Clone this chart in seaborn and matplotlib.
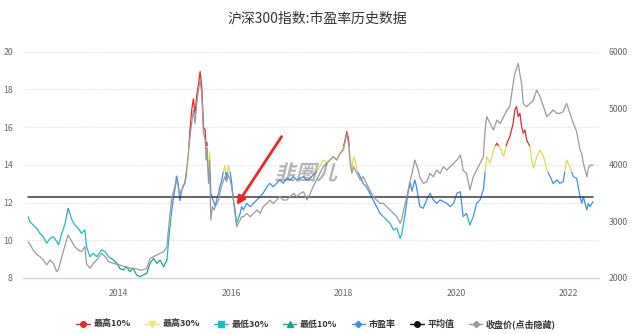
import matplotlib
matplotlib.use("Agg")
import matplotlib.pyplot as plt
from matplotlib.patches import Rectangle, PathPatch
from matplotlib.lines import Line2D
from matplotlib.textpath import TextPath
from matplotlib.font_manager import FontProperties
from matplotlib.transforms import Affine2D, ScaledTranslation
import pandas as pd
import seaborn as sns

# CSI 300: trailing P/E and index close, sampled roughly every three weeks
years = [
    2012.39, 2012.42, 2012.48, 2012.54, 2012.60, 2012.66, 2012.72, 2012.78, 2012.84, 2012.90,
    2012.93, 2012.99, 2013.05, 2013.10, 2013.17, 2013.22, 2013.28, 2013.34, 2013.40, 2013.43,
    2013.49, 2013.55, 2013.61, 2013.70, 2013.76, 2013.82, 2013.91, 2013.97, 2014.02, 2014.08,
    2014.14, 2014.20, 2014.26, 2014.32, 2014.38, 2014.44, 2014.50, 2014.56, 2014.62, 2014.68,
    2014.74, 2014.80, 2014.86, 2014.88, 2014.91, 2014.94, 2014.97, 2015.00, 2015.03, 2015.06,
    2015.09, 2015.12, 2015.15, 2015.18, 2015.21, 2015.24, 2015.27, 2015.30, 2015.33, 2015.36,
    2015.39, 2015.42, 2015.45, 2015.48, 2015.51, 2015.54, 2015.56, 2015.57, 2015.60, 2015.62,
    2015.64, 2015.67, 2015.70, 2015.72, 2015.75, 2015.78, 2015.80, 2015.83, 2015.86, 2015.89,
    2015.92, 2015.95, 2015.98, 2016.01, 2016.04, 2016.07, 2016.10, 2016.13, 2016.16, 2016.19,
    2016.22, 2016.28, 2016.34, 2016.40, 2016.46, 2016.52, 2016.57, 2016.64, 2016.69, 2016.75,
    2016.81, 2016.87, 2016.93, 2016.99, 2017.05, 2017.11, 2017.17, 2017.23, 2017.29, 2017.35,
    2017.41, 2017.46, 2017.52, 2017.58, 2017.64, 2017.70, 2017.76, 2017.82, 2017.88, 2017.94,
    2018.00, 2018.03, 2018.06, 2018.09, 2018.12, 2018.15, 2018.18, 2018.21, 2018.24, 2018.30,
    2018.35, 2018.41, 2018.47, 2018.53, 2018.59, 2018.65, 2018.71, 2018.77, 2018.83, 2018.89,
    2018.95, 2019.01, 2019.04, 2019.07, 2019.10, 2019.13, 2019.16, 2019.19, 2019.22, 2019.27,
    2019.30, 2019.33, 2019.36, 2019.42, 2019.48, 2019.54, 2019.60, 2019.66, 2019.72, 2019.78,
    2019.84, 2019.90, 2019.96, 2020.02, 2020.08, 2020.11, 2020.13, 2020.19, 2020.25, 2020.31,
    2020.37, 2020.43, 2020.49, 2020.52, 2020.55, 2020.61, 2020.67, 2020.73, 2020.79, 2020.85,
    2020.91, 2020.96, 2021.02, 2021.05, 2021.08, 2021.11, 2021.14, 2021.17, 2021.20, 2021.23,
    2021.26, 2021.32, 2021.35, 2021.38, 2021.44, 2021.50, 2021.56, 2021.62, 2021.68, 2021.73,
    2021.80, 2021.85, 2021.91, 2021.97, 2022.03, 2022.09, 2022.15, 2022.21, 2022.24, 2022.27,
    2022.33, 2022.36, 2022.39, 2022.44,
]
pe_ratio = [
    11.25, 10.99, 10.81, 10.64, 10.37, 10.19, 9.84, 10.10, 10.19, 9.93,
    9.75, 10.37, 10.90, 11.70, 11.08, 10.81, 10.64, 10.37, 10.55, 9.66,
    9.13, 9.31, 9.13, 9.49, 9.40, 9.13, 8.95, 8.78, 8.51, 8.42,
    8.60, 8.33, 8.51, 8.16, 8.07, 8.16, 8.25, 8.78, 9.04, 8.78,
    8.95, 8.60, 8.95, 9.66, 10.55, 11.43, 12.14, 12.67, 13.40, 13.02,
    12.10, 12.60, 12.90, 13.00, 13.60, 14.40, 15.85, 16.90, 17.50, 16.70,
    17.70, 18.25, 18.95, 18.15, 16.00, 15.85, 14.40, 15.20, 13.60, 14.70,
    12.50, 12.20, 12.00, 11.80, 12.20, 12.50, 12.85, 13.10, 13.60, 13.95,
    13.25, 13.95, 13.70, 13.10, 12.20, 11.65, 10.90, 11.15, 11.40, 11.78,
    11.61, 11.96, 11.78, 11.96, 12.14, 12.31, 12.49, 12.84, 13.02, 12.84,
    13.02, 13.20, 13.02, 13.29, 13.20, 13.37, 13.20, 13.29, 13.37, 13.20,
    13.29, 13.46, 13.64, 13.90, 14.26, 14.08, 14.26, 14.44, 14.26, 14.60,
    14.96, 15.32, 15.76, 15.40, 14.44, 13.73, 14.44, 14.26, 13.73, 13.37,
    13.02, 12.84, 12.49, 12.14, 11.78, 11.43, 11.25, 11.08, 10.90, 10.55,
    10.64, 10.10, 10.37, 10.90, 11.43, 12.14, 12.67, 13.02, 12.60, 13.20,
    12.84, 12.31, 11.78, 11.70, 12.14, 12.49, 12.14, 11.96, 12.14, 12.05,
    11.96, 11.78, 11.96, 12.49, 12.58, 11.78, 11.25, 11.43, 10.81, 11.25,
    11.96, 12.14, 12.67, 13.55, 14.44, 14.08, 14.79, 15.15, 14.88, 14.44,
    15.15, 15.50, 16.20, 16.91, 17.09, 16.56, 16.73, 16.03, 15.68, 15.85,
    15.32, 14.96, 14.26, 13.82, 14.44, 14.79, 14.44, 13.73, 13.37, 13.02,
    13.20, 13.02, 13.10, 14.26, 13.90, 13.37, 13.29, 12.31, 11.96, 12.31,
    11.61, 11.96, 11.78, 12.05,
]
close_price = [
    2641, 2600, 2495, 2420, 2377, 2318, 2230, 2318, 2259, 2111,
    2150, 2377, 2583, 2760, 2641, 2553, 2495, 2465, 2553, 2250,
    2171, 2259, 2318, 2436, 2377, 2289, 2259, 2240, 2230, 2210,
    2200, 2171, 2171, 2160, 2141, 2141, 2171, 2348, 2377, 2407,
    2436, 2465, 2553, 2790, 3083, 3378, 3496, 3613, 3731, 3613,
    3496, 3550, 3613, 3700, 3908, 4203, 4497, 4733, 4969, 4733,
    5087, 5322, 5499, 5263, 4557, 4439, 4085, 4300, 3673, 4085,
    3025, 3260, 3200, 3260, 3319, 3378, 3496, 3613, 3700, 3790,
    3700, 3820, 3750, 3613, 3400, 3150, 2907, 2966, 3025, 3083,
    3083, 3143, 3083, 3143, 3201, 3143, 3260, 3319, 3378, 3319,
    3378, 3437, 3378, 3378, 3437, 3496, 3437, 3496, 3525, 3378,
    3496, 3613, 3731, 3850, 3967, 4026, 4085, 4144, 4085, 4203,
    4262, 4409, 4557, 4380, 4026, 3850, 3967, 3900, 3850, 3731,
    3790, 3673, 3555, 3437, 3378, 3319, 3319, 3260, 3201, 3143,
    3083, 2966, 3050, 3201, 3320, 3437, 3600, 3731, 3850, 4085,
    4000, 3908, 3780, 3673, 3700, 3850, 3790, 3908, 3850, 3967,
    3908, 3967, 4026, 4085, 4174, 4026, 3900, 3850, 3555, 3790,
    3908, 4026, 4144, 4615, 4851, 4733, 4615, 4792, 4733, 4851,
    4969, 5028, 5440, 5617, 5700, 5794, 5600, 5440, 5087, 5050,
    5028, 5087, 5110, 5145, 5322, 5204, 5028, 4851, 4910, 4969,
    4910, 4910, 4940, 5087, 4910, 4733, 4586, 4262, 4203, 4026,
    3790, 3950, 3996, 3996,
]
pe_mean = 12.27

# P/E percentile bands: (legend label, lower bound, upper bound, colour)
pe_bands = [
    ("最高10%", 15.0, 99.0, "#e8262e"),
    ("最高30%", 13.6, 15.0, "#dcdc5a"),
    ("市盈率", 11.3, 13.6, "#3d8fe8"),
    ("最低30%", 9.05, 11.3, "#1cbcc6"),
    ("最低10%", 0.0, 9.05, "#17a68a"),
]

year_ticks = [2014, 2016, 2018, 2020, 2022]
pe_ticks = [8, 10, 12, 14, 16, 18, 20]
price_ticks = [2000, 3000, 4000, 5000, 6000]
legend_labels = ["最高10%", "最高30%", "最低30%", "最低10%", "市盈率", "平均值", "收盘价(点击隐藏)"]
legend_colors = ["#e8262e", "#eaea70", "#1cbcc6", "#17a68a", "#3d8fe8", "#111111", "#999999"]
legend_markers = ["o", "v", "s", "^", "D", "o", "D"]

sns.set_style("white")
plt.rcParams["font.family"] = ["Noto Sans CJK SC", "DejaVu Sans"]

df = pd.DataFrame({"year": years, "pe": pe_ratio, "close": close_price})
x_lo, x_hi = 2012.294, 2022.548

fig = plt.figure(figsize=(6.4, 3.34), dpi=100)
ax = fig.add_axes([0.0355, 0.1677, 0.9005, 0.6775])
ax2 = ax.twinx()

# P/E line, recoloured inside each percentile band by clipping
for label, lo, hi, color in pe_bands:
    n = len(ax.lines)
    sns.lineplot(data=df, x="year", y="pe", ax=ax, color=color, lw=0.9,
                 estimator=None, sort=False, legend=False)
    clip = Rectangle((x_lo, lo), x_hi - x_lo, hi - lo, transform=ax.transData)
    ax.lines[n].set_clip_path(clip)

# long-run average P/E
sns.lineplot(x=[years[0], years[-1]], y=[pe_mean, pe_mean], ax=ax,
             color="#3a3a3a", lw=1.1, legend=False)

# index close on the right axis
sns.lineplot(data=df, x="year", y="close", ax=ax2, color="#9a9a9a", lw=0.9,
             estimator=None, sort=False, legend=False)

ax.set_xlim(x_lo, x_hi)
ax.set_ylim(8, 20)
ax2.set_ylim(2000, 6000)
ax.set_xticks(year_ticks)
ax.set_xticklabels([str(y) for y in year_ticks])
ax.set_yticks(pe_ticks)
ax2.set_yticks(price_ticks)
for a in (ax, ax2):
    a.set_xlabel("")
    a.set_ylabel("")
    for side in ("top", "left", "right", "bottom"):
        a.spines[side].set_visible(False)
ax.spines["bottom"].set_visible(True)
ax.spines["bottom"].set_color("#ccd6eb")
ax.spines["bottom"].set_linewidth(1.0)

ax.grid(axis="y", color="#d9d9d9", linestyle=(0, (1, 1.5)), lw=0.8)
ax.grid(axis="x", visible=False)
ax.set_axisbelow(True)

ax.tick_params(axis="x", length=0, labelsize=6.3, labelcolor="#666666", pad=8)
ax.tick_params(axis="y", length=0, labelsize=6.3, labelcolor="#666666", pad=7)
ax2.tick_params(axis="y", length=0, labelsize=6.3, labelcolor="#666666", pad=7)

# title
fig.text(0.495, 0.945, "沪深300指数:市盈率历史数据", ha="center", va="center",
         fontsize=10, color="#333333")

# callout arrow pointing at the early-2016 trough
ax2.annotate("", xy=(2016.10, 11.87), xytext=(2016.90, 15.5),
             xycoords=ax.transData, textcoords=ax.transData,
             arrowprops=dict(arrowstyle="-|>", color="#f02424", lw=2.0,
                             mutation_scale=12, shrinkA=0, shrinkB=0))

# slanted site watermark
mark = TextPath((0, 0), "韭圈儿", size=15,
                prop=FontProperties(family="Noto Sans CJK SC", weight="bold"))
ext = mark.get_extents()
mark_tf = (Affine2D()
           .translate(-(ext.x0 + ext.x1) / 2, -(ext.y0 + ext.y1) / 2)
           .skew_deg(14, 0)
           .scale(fig.dpi / 72)
           + ScaledTranslation(2017.37, 13.62, ax.transData))
ax2.add_patch(PathPatch(mark, transform=mark_tf, facecolor="#6e6e6e",
                        edgecolor="none", alpha=0.5, zorder=5))

handles = [
    Line2D([0], [0], color=c, marker=m, lw=1.0,
           markersize=3.2 if m == "D" else 4.0)
    for c, m in zip(legend_colors, legend_markers)
]
fig.legend(handles, legend_labels, loc="center", bbox_to_anchor=(0.494, 0.03),
           ncol=7, frameon=False, prop={"size": 6.5, "weight": "bold"},
           handlelength=1.5, columnspacing=1.6, handletextpad=0.4,
           labelcolor="#333333")

fig.savefig("out.png", dpi=100)
